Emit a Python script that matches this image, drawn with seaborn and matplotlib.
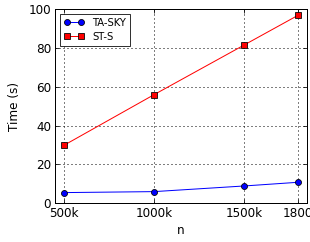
import pandas as pd
import matplotlib
matplotlib.use("Agg")
import matplotlib.pyplot as plt
import seaborn as sns

# values
n_values = [500, 1000, 1500, 1800]
tick_labels = ["500k", "1000k", "1500k", "1800"]
ta_sky = [5.5, 6.0, 8.9, 10.8]
st_s = [29.9, 55.9, 81.4, 96.7]

df = pd.DataFrame({
    "n": n_values * 2,
    "time": ta_sky + st_s,
    "method": ["TA-SKY"] * 4 + ["ST-S"] * 4,
})

sns.set_style("ticks")
plt.rcParams["font.family"] = ["DejaVu Sans"]
plt.rcParams["text.color"] = "black"
plt.rcParams["axes.labelcolor"] = "black"
plt.rcParams["xtick.color"] = "black"
plt.rcParams["ytick.color"] = "black"

fig, ax = plt.subplots(figsize=(310 / 72, 242 / 72), dpi=72)
sns.lineplot(data=df, x="n", y="time", hue="method", style="method",
             palette={"TA-SKY": "blue", "ST-S": "red"},
             markers={"TA-SKY": "o", "ST-S": "s"}, dashes=False,
             markersize=6, markeredgecolor="black", markeredgewidth=0.8,
             linewidth=1.0, ax=ax)

ax.set_xlim(450, 1850)
ax.set_ylim(0, 100)
ax.set_xticks(n_values)
ax.set_xticklabels(tick_labels)
ax.set_yticks([0, 20, 40, 60, 80, 100])
ax.grid(True, color="black", linestyle=(0, (1, 3)), linewidth=1.0)
ax.tick_params(direction="in", top=True, right=True, length=4, labelsize=12, pad=4)
for s in ax.spines.values():
    s.set_linewidth(1.0)
    s.set_color("black")
ax.set_xlabel("n", fontsize=12)
ax.set_ylabel("Time (s)", fontsize=12, labelpad=8)

handles, labels = ax.get_legend_handles_labels()
leg = ax.legend(handles, labels, loc="upper left", fontsize=10, fancybox=False,
                edgecolor="black", framealpha=1, handlelength=2.0, numpoints=2,
                borderpad=0.4, labelspacing=0.4)
leg.get_frame().set_linewidth(0.8)

fig.subplots_adjust(left=0.178, right=0.99, top=0.963, bottom=0.16)
fig.savefig("out.png", dpi=72)
